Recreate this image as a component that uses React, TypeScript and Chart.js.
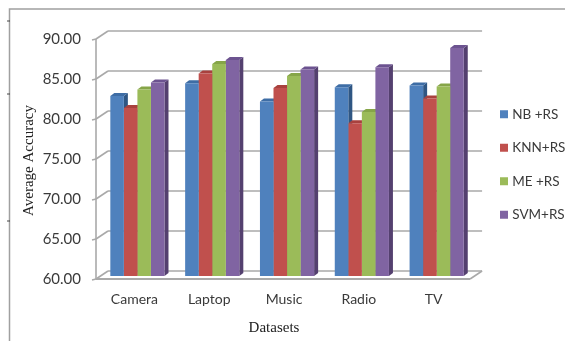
import { useEffect, useRef } from "react";
import { Chart, registerables } from "chart.js";

Chart.register(...registerables);

const categories = ["Camera", "Laptop", "Music", "Radio", "TV"];
const nbRs = [82.5, 84.1, 81.8, 83.6, 83.8];
const knnRs = [81.0, 85.3, 83.5, 79.1, 82.2];
const meRs = [83.3, 86.5, 85.0, 80.5, 83.7];
const svmRs = [84.2, 87.0, 85.8, 86.1, 88.5];
const seriesNames = ["NB +RS", "KNN+RS", "ME +RS", "SVM+RS"];
const faceColors = ["#4F81BD", "#C0504D", "#9BBB59", "#8064A2"];
const sideColors = ["#2F5683", "#853533", "#6B8339", "#54406F"];
const capColors = ["#3E6DA5", "#A8413E", "#86A548", "#6C5390"];

const GRID = "#A9A9A9";
const INK = "#3A3A3A";
const SANS = "Lato, 'Open Sans', sans-serif";
const SERIF = "'Liberation Serif', serif";

// Extrusion of each bar, and where the walls and floor sit relative to the bar plane.
const BAR_DEPTH = { x: 4, y: 3 };
const BACK_WALL = { x: 8, y: 5 };
const FRONT_EDGE = { x: 4, y: 3 };

const poly = (ctx: CanvasRenderingContext2D, pts: number[][], fill: string) => {
  ctx.fillStyle = fill;
  ctx.beginPath();
  pts.forEach(([x, y], i) => (i ? ctx.lineTo(x, y) : ctx.moveTo(x, y)));
  ctx.closePath();
  ctx.fill();
};

const line = (ctx: CanvasRenderingContext2D, x0: number, y0: number, x1: number, y1: number) => {
  ctx.beginPath();
  ctx.moveTo(x0, y0);
  ctx.lineTo(x1, y1);
  ctx.stroke();
};

// Page frame with the small dark marks along its left edge.
const framePlugin = {
  id: "frame",
  beforeDraw(chart: any) {
    const { ctx, width, height } = chart;
    ctx.save();
    ctx.fillStyle = "#fff";
    ctx.fillRect(0, 0, width, height);
    ctx.strokeStyle = "#A0A0A0";
    ctx.lineWidth = 1.5;
    ctx.beginPath();
    ctx.moveTo(9.5, height);
    ctx.lineTo(9.5, 9);
    ctx.lineTo(width, 9);
    ctx.stroke();
    ctx.strokeStyle = "#444";
    ctx.lineWidth = 1;
    [21, 94, 221].forEach((y) => line(ctx, 7, y, 10, y));
    ctx.restore();
  },
};

// Back wall, left wall and floor, drawn from the value axis.
const wallsPlugin = {
  id: "walls",
  beforeDatasetsDraw(chart: any) {
    const { ctx, chartArea, scales } = chart;
    const { left, right } = chartArea;
    const frontLeft = left - FRONT_EDGE.x;
    const frontRight = right - FRONT_EDGE.x;
    const backLeft = left + BACK_WALL.x;
    const backRight = right + BACK_WALL.x;
    ctx.save();
    ctx.strokeStyle = GRID;
    ctx.lineWidth = 1.6;
    scales.y.ticks.forEach((t: any) => {
      const y = scales.y.getPixelForValue(t.value);
      const fy = y + FRONT_EDGE.y;
      const by = y - BACK_WALL.y;
      line(ctx, frontLeft - 4, fy + 1, frontLeft, fy);
      line(ctx, frontLeft, fy, backLeft, by);
      line(ctx, backLeft, by, backRight, by);
    });
    const top = scales.y.getPixelForValue(scales.y.max) + FRONT_EDGE.y;
    const floor = scales.y.getPixelForValue(scales.y.min);
    line(ctx, frontLeft, top, frontLeft, floor + FRONT_EDGE.y);
    ctx.lineWidth = 2;
    line(ctx, frontLeft, floor + FRONT_EDGE.y, frontRight, floor + FRONT_EDGE.y);
    ctx.lineWidth = 1.6;
    line(ctx, frontRight, floor + FRONT_EDGE.y, backRight, floor - BACK_WALL.y);
    ctx.restore();
  },
};

// Side and top faces of every bar; the flat front faces are drawn over them by the bar controller.
const extrudePlugin = {
  id: "extrude",
  beforeDatasetsDraw(chart: any) {
    const { ctx, chartArea } = chart;
    const { x: dx, y: dy } = BAR_DEPTH;
    ctx.save();
    chart.data.datasets.forEach((_: any, d: number) => {
      chart.getDatasetMeta(d).data.forEach((bar: any) => {
        const p = bar.getProps(["x", "y", "width", "base"], true);
        const x0 = p.x - p.width / 2;
        const x1 = p.x + p.width / 2;
        const base = Math.min(p.base, chartArea.bottom);
        poly(ctx, [[x1, p.y], [x1 + dx, p.y - dy], [x1 + dx, base - dy], [x1, base]], sideColors[d]);
        poly(ctx, [[x0, p.y], [x0 + dx, p.y - dy], [x1 + dx, p.y - dy], [x1, p.y]], capColors[d]);
      });
    });
    ctx.restore();
  },
};

// Axis captions, set in the serif face and placed off the plot's centre.
const captionPlugin = {
  id: "captions",
  afterDraw(chart: any) {
    const { ctx } = chart;
    ctx.save();
    ctx.fillStyle = "#222";
    ctx.font = `15px ${SERIF}`;
    ctx.textAlign = "center";
    ctx.textBaseline = "middle";
    ctx.fillText("Datasets", 274, 328);
    ctx.translate(29, 160.5);
    ctx.rotate(-Math.PI / 2);
    ctx.fillText("Average Accuracy", 0, 0);
    ctx.restore();
  },
};

// Moves the legend into its column beside the plot.
const legendPlacePlugin = {
  id: "legendPlace",
  afterLayout(chart: any) {
    const lg = chart.legend;
    const dx = 482.5 - lg.left;
    lg.left += dx;
    lg.right += dx;
    lg.top -= 24;
    lg.bottom -= 24;
    lg.adjustHitBoxes();
  },
};

export default function App() {
  const ref = useRef<HTMLCanvasElement>(null);

  useEffect(() => {
    const values = [nbRs, knnRs, meRs, svmRs];
    const chart = new Chart(ref.current!, {
      type: "bar",
      data: {
        labels: categories,
        datasets: seriesNames.map((label, i) => ({
          label,
          data: values[i],
          backgroundColor: faceColors[i],
          borderWidth: 0,
          categoryPercentage: 0.724,
          barPercentage: 1,
        })),
      },
      plugins: [framePlugin, wallsPlugin, extrudePlugin, captionPlugin, legendPlacePlugin],
      options: {
        responsive: false,
        animation: false,
        layout: { autoPadding: false, padding: { top: 36, right: -2, bottom: 0, left: 0 } },
        plugins: {
          tooltip: { enabled: false },
          legend: {
            position: "right",
            labels: {
              usePointStyle: true,
              pointStyle: "rect",
              boxWidth: 3,
              boxHeight: 8,
              padding: 20,
              color: INK,
              font: { family: SANS, size: 13.5 },
            },
          },
        },
        scales: {
          x: {
            grid: { display: false },
            border: { display: false },
            ticks: { color: INK, font: { family: SANS, size: 14 }, padding: 7, labelOffset: -3, maxRotation: 0 },
            afterFit(scale: any) {
              scale.height = 65;
            },
          },
          y: {
            min: 60,
            max: 90,
            grid: { display: false },
            border: { display: false },
            ticks: {
              stepSize: 5,
              color: INK,
              font: { family: SANS, size: 15 },
              padding: 11,
              labelOffset: 3,
              callback: (v: any) => Number(v).toFixed(2),
            },
            afterFit(scale: any) {
              scale.width = 100;
            },
          },
        },
      },
    } as any);
    return () => chart.destroy();
  }, []);

  return (
    <div style={{ position: "absolute", left: 0, top: 0, width: 565, height: 341 }}>
      <canvas ref={ref} width={565} height={341} style={{ display: "block" }} />
    </div>
  );
}
